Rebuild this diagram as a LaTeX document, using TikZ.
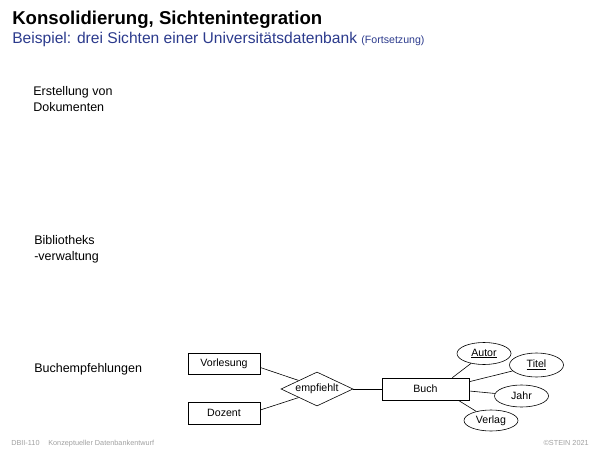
\documentclass[tikz,border=0pt]{standalone}
\usepackage{fontspec}
\setmainfont{Liberation Sans}
\usetikzlibrary{shapes.geometric,positioning}
\definecolor{UniBlue}{HTML}{2B3A8C}
\definecolor{FootGray}{HTML}{A0A0A0}

\begin{document}
\begin{tikzpicture}[x=1pt,y=-1pt,line width=0.6pt,
  entity/.style={draw,minimum width=72pt,minimum height=21pt,inner sep=0pt,font=\fontsize{10.6}{12}\selectfont},
  relship/.style={draw,diamond,aspect=2.1,minimum width=72pt,minimum height=34pt,inner sep=0pt,font=\fontsize{10.6}{12}\selectfont},
  attrib/.style={draw,ellipse,minimum width=54pt,minimum height=22pt,inner sep=0pt,font=\fontsize{10.6}{12}\selectfont},
  viewlabel/.style={anchor=base west,inner sep=0pt,align=left,font=\fontsize{12.5}{16}\selectfont},
  foot/.style={anchor=base west,inner sep=0pt,text=FootGray,font=\fontsize{7.3}{8}\selectfont}]
  \useasboundingbox (0,0) rectangle (600,450);

  % heading
  \node[anchor=base west,inner sep=0pt,font=\fontsize{18.6}{20}\selectfont\bfseries] (title) at (12,24) {Konsolidierung, Sichtenintegration};
  \node[anchor=base west,inner sep=0pt,text=UniBlue,font=\fontsize{15.6}{17}\selectfont] (subtitle) at (12,43)
    {Beispiel: drei Sichten einer Universitätsdatenbank {\fontsize{10.6}{12}\selectfont(Fortsetzung)}};

  % the three views
  \node[viewlabel] (v1) at (33,95) {Erstellung von};
  \node[viewlabel] (v1b) at (33,111) {Dokumenten};
  \node[viewlabel] (v2) at (34,244) {Bibliotheks};
  \node[viewlabel] (v2b) at (34,260) {-verwaltung};
  \node[viewlabel] (v3) at (34,372) {Buchempfehlungen};

  % ER schema of view 3
  \node[entity] (vorl) at (224,363.5) {Vorlesung};
  \node[entity,minimum height=22pt] (doz) at (224,413) {Dozent};
  \node[relship] (empf) at (317,389) {empfiehlt};
  \node[entity,minimum width=87pt,minimum height=22pt] (buch) at (425.5,389) {Buch};
  \node[attrib] (autor) at (484,353.5) {\underline{Autor}};
  \node[attrib,minimum height=24pt] (titel) at (536.5,365) {\underline{Titel}};
  \node[attrib] (jahr) at (521.5,396) {Jahr};
  \node[attrib,minimum height=21pt] (verlag) at (491,420.5) {Verlag};

  \draw ([yshift=-4pt]vorl.east) -- (empf.155);
  \draw ([yshift=3pt]doz.east) -- (empf.205);
  \draw (empf.east) -- (buch.west);
  \draw ([xshift=-17pt]buch.north east) -- (autor);
  \draw ([yshift=-4pt]buch.north east) -- (titel);
  \draw ([yshift=-2pt]buch.east) -- (jahr);
  \draw ([xshift=-11pt]buch.south east) -- (verlag);

  % footer
  \node[foot] (f1) at (11,445) {DBII-110};
  \node[foot] (f2) at (48,445) {Konzeptueller Datenbankentwurf};
  \node[foot,anchor=base east] (f3) at (589,445) {©STEIN 2021};
\end{tikzpicture}
\end{document}
